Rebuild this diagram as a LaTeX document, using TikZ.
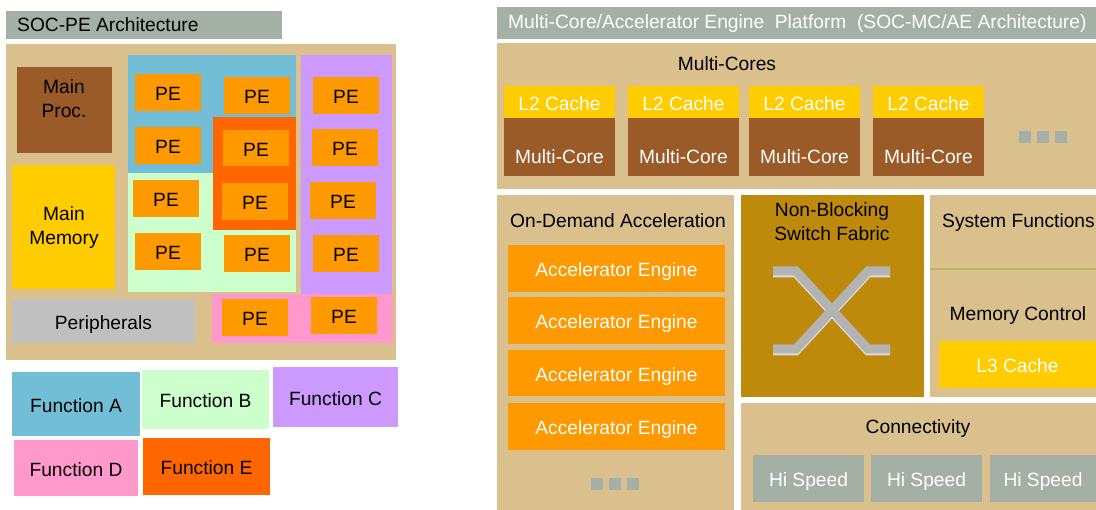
\documentclass[tikz,border=0pt]{standalone}
\usepackage{fontspec}
\setmainfont{Liberation Sans}
\usetikzlibrary{fit}

\definecolor{hdrgray}{HTML}{A4AFA6}
\definecolor{tan}{HTML}{D9C08D}
\definecolor{brownblk}{HTML}{9A5B28}
\definecolor{yellowblk}{HTML}{FFCC00}
\definecolor{orangeblk}{HTML}{FF9900}
\definecolor{redorange}{HTML}{FF6600}
\definecolor{blueblk}{HTML}{73BED7}
\definecolor{greenblk}{HTML}{CCFFCC}
\definecolor{purpleblk}{HTML}{CC99FF}
\definecolor{pinkblk}{HTML}{FF99CC}
\definecolor{perigray}{HTML}{C0C0C0}
\definecolor{switchgold}{HTML}{BE8A0B}
\definecolor{sepline}{HTML}{BBB262}
\definecolor{xgray}{HTML}{B3B3B3}
\definecolor{xlight}{HTML}{DADADA}

\tikzset{
  blk/.style={inner sep=0pt, outer sep=0pt},
  lbl/.style={inner sep=0pt, align=center, text=black},
  wlbl/.style={inner sep=0pt, align=center, text=white},
  oneline/.style={text height=16.8pt, text depth=0pt},
  btxt/.style={label={[lbl, oneline]center:#1}},
  wtxt/.style={label={[wlbl, oneline]center:#1}},
  xbar/.style={line width=9pt, xgray},
}

\begin{document}
\begin{tikzpicture}[x=1pt, y=-1pt, font=\fontsize{19.2}{24}\selectfont]
        \useasboundingbox (0,0) rectangle (1096,510);

        % SOC-PE side
        \node[blk, fill=hdrgray, fit={(6,11) (282,39)}] (hdrL) {};
        \node[lbl, anchor=west] (hdrLtxt) at (17,25) {SOC-PE Architecture};
        \node[blk, fill=tan, fit={(6,44) (396,360)}] (soc) {};
        \node[blk, fill=brownblk, fit={(17,67) (112,153)}] (mainproc) {};
        \node[lbl] (mainproctxt) at (64,99) {Main\\Proc.};
        \node[blk, fill=yellowblk, fit={(12,165) (115,289)}] (mainmem) {};
        \node[lbl] (mainmemtxt) at (64,228) {Main\\Memory};
        \node[blk, fill=perigray, fit={(12,299) (195,343)}, btxt=Peripherals] (periph) {};

        \node[blk, fill=blueblk, fit={(128,55) (296,173)}] (regA) {};
        \node[blk, fill=greenblk, fit={(128,173) (296,292)}] (regB) {};
        \node[blk, fill=purpleblk, fit={(301,55) (392,294)}] (regC) {};
        \node[blk, fill=pinkblk, fit={(212,294) (393,343)}] (regD) {};
        \node[blk, fill=redorange, fit={(213,117) (296,230)}] (regE) {};

        \foreach \n/\xa/\ya/\xb/\yb in {1/135/74/201/111, 2/224/77/290/114, 3/135/127/201/164,
                4/223/130/289/166, 5/133/180/199/217, 6/222/183/288/220, 7/135/233/201/270,
                8/224/235/290/272, 9/313/77/379/114, 10/312/129/378/166, 11/310/182/376/219,
                12/313/235/379/272, 13/222/299/288/336, 14/311/297/377/334}
                \node[blk, fill=orangeblk, fit={(\xa,\ya) (\xb,\yb)}, btxt=PE] (pe\n) {};

        \node[blk, fill=blueblk, fit={(12,372) (140,436)}, btxt=Function A] (fA) {};
        \node[blk, fill=greenblk, fit={(142,370) (269,429)}, btxt=Function B] (fB) {};
        \node[blk, fill=purpleblk, fit={(273,367) (398,427)}, btxt=Function C] (fC) {};
        \node[blk, fill=pinkblk, fit={(14,440) (138,496)}, btxt=Function D] (fD) {};
        \node[blk, fill=redorange, fit={(143,438) (270,495)}, btxt=Function E] (fE) {};

        % SOC-MC/AE side
        \node[blk, fill=hdrgray, fit={(497,7) (1096,39)}] (hdrR) {};
        \node[wlbl, anchor=west] (hdrRtxt) at (508,24) {Multi-Core/Accelerator Engine\ \ Platform\ \ (SOC-MC/AE Architecture)};

        \node[blk, fill=tan, fit={(497,43) (1096,189)}] (mcores) {};
        \node[lbl] (mcorestxt) at (727,64) {Multi-Cores};
        \foreach \n/\xa/\xb in {1/504/615, 2/628/739, 3/749/860, 4/873/984} {
                \node[blk, fill=yellowblk, fit={(\xa,86) (\xb,118)}, wtxt=L2 Cache] (ltwo\n) {};
                \node[blk, fill=brownblk, fit={(\xa,118) (\xb,176)}] (core\n) {};
                \node[wlbl] (coretxt\n) at (core\n.center |- 0,157) {Multi-Core};
        }
        \foreach \n/\xa in {1/1019, 2/1037, 3/1055}
                \node[blk, fill=hdrgray, fit={(\xa,131) (\xa+12,143)}] (mcdot\n) {};

        \node[blk, fill=tan, fit={(497,195) (734,510)}] (ondemand) {};
        \node[lbl] (ondemandtxt) at (618,221) {On-Demand Acceleration};
        \foreach \n/\ya/\yb in {1/245/292, 2/297/344, 3/350/396, 4/403/450}
                \node[blk, fill=orangeblk, fit={(508,\ya) (725,\yb)}, wtxt=Accelerator Engine] (acc\n) {};
        \foreach \n/\xa in {1/591, 2/609, 3/627}
                \node[blk, fill=hdrgray, fit={(\xa,478) (\xa+12,490)}] (accdot\n) {};

        \node[blk, fill=switchgold, fit={(741,195) (924,397)}] (switch) {};
        \node[lbl] (switchtxt) at (832,222) {Non-Blocking\\Switch Fabric};
        \draw[xbar, xlight] (773,273) -- (796,273) -- (868,351) -- (890,351);
        \draw[xbar, xlight] (773,351) -- (796,351) -- (868,273) -- (890,273);
        \draw[xbar] (773,271) -- (796,271) -- (868,349) -- (890,349);
        \draw[xbar] (773,349) -- (796,349) -- (868,271) -- (890,271);

        \node[blk, fill=tan, fit={(930,195) (1096,397)}] (sysfn) {};
        \draw[sepline, line width=2pt] (sysfn.west |- 0,269) -- (sysfn.east |- 0,269);
        \node[lbl, anchor=west] (sysfntxt) at (942,223) {System Functions};
        \node[lbl] (memctltxt) at (1018,316) {Memory Control};
        \node[blk, fill=yellowblk, fit={(939,341) (1096,388)}, wtxt=L3 Cache] (lthree) {};

        \node[blk, fill=tan, fit={(741,403) (1096,510)}] (conn) {};
        \node[lbl] (conntxt) at (918,429) {Connectivity};
        \foreach \n/\xa/\xb in {1/753/864, 2/871/982, 3/990/1096}
                \node[blk, fill=hdrgray, fit={(\xa,455) (\xb,502)}, wtxt=Hi Speed] (hispd\n) {};
\end{tikzpicture}
\end{document}
